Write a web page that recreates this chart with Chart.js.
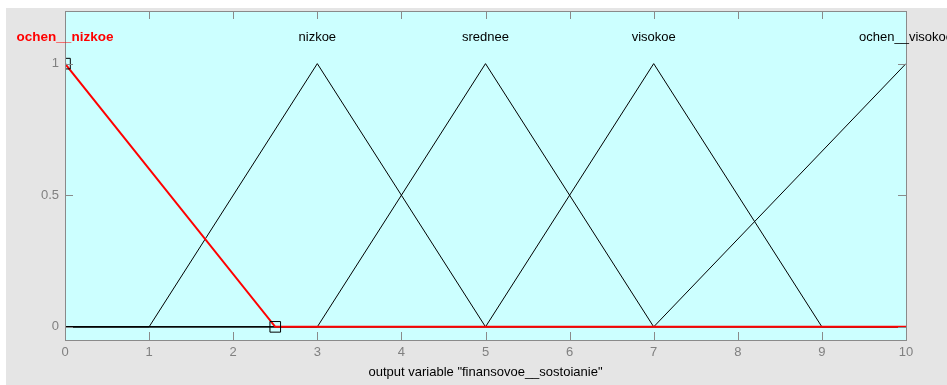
<!DOCTYPE html>
<html>
<head>
<meta charset="utf-8">
<script src="https://cdn.jsdelivr.net/npm/chart.js@4/dist/chart.umd.min.js"></script>
<style>
  html, body { margin: 0; padding: 0; background: #fff; }
</style>
</head>
<body>
<canvas id="mf" width="947" height="385"></canvas>
<script>
// membership functions of the output variable
const mfNames = ["ochen__nizkoe", "nizkoe", "srednee", "visokoe", "ochen__visokoe"];
const mfX = [
  [0, 2.5, 10],
  [0, 1, 3, 5, 10],
  [0, 3, 5, 7, 10],
  [0, 5, 7, 9, 10],
  [0, 7, 10],
];
const mfY = [
  [1, 0, 0],
  [0, 0, 1, 0, 0],
  [0, 0, 1, 0, 0],
  [0, 0, 1, 0, 0],
  [0, 0, 1],
];
const selected = 0; // highlighted mf (red, with vertex squares)
const xTicks = [0, 1, 2, 3, 4, 5, 6, 7, 8, 9, 10];
const yTicks = [0, 0.5, 1];
const xTitle = 'output variable "finansovoe__sostoianie"';
const labelLevel = 1.1;

const FONT = "'Liberation Sans', Arial, Helvetica, sans-serif";
const PANEL = "#e5e5e5";
const AXES_BG = "#ccffff";
const BOX = "#8a8a8a";

const datasets = mfNames.map((name, i) => {
  const pts = mfX[i].map((x, j) => ({ x, y: mfY[i][j] }));
  const sel = i === selected;
  return {
    label: name,
    data: pts,
    borderColor: sel ? "#ff0000" : "#000000",
    borderWidth: sel ? 2 : 1,
    pointRadius: sel ? pts.map((p, j) => (j < pts.length - 1 ? 7.5 : 0)) : 0,
    pointStyle: "rect",
    pointBorderColor: "#000000",
    pointBackgroundColor: "rgba(0,0,0,0)",
    pointBorderWidth: 1,
    tension: 0,
  };
});

const frame = {
  id: "frame",
  beforeDraw(chart) {
    const { ctx, chartArea: a } = chart;
    ctx.save();
    ctx.fillStyle = "#ffffff";
    ctx.fillRect(0, 0, chart.width, chart.height);
    ctx.fillStyle = PANEL;
    ctx.fillRect(6, 8, chart.width - 6, chart.height - 8);
    ctx.fillStyle = AXES_BG;
    ctx.fillRect(a.left, a.top, a.right - a.left, a.bottom - a.top);
    ctx.restore();
  },
  afterDatasetsDraw(chart) {
    const { ctx, chartArea: a, scales } = chart;
    const tl = 8;
    ctx.save();
    ctx.strokeStyle = BOX;
    ctx.lineWidth = 1;
    ctx.beginPath();
    xTicks.forEach((v) => {
      const px = Math.round(scales.x.getPixelForValue(v)) + 0.5;
      ctx.moveTo(px, a.top); ctx.lineTo(px, a.top + tl);
      ctx.moveTo(px, a.bottom); ctx.lineTo(px, a.bottom - tl);
    });
    yTicks.forEach((v) => {
      const py = Math.round(scales.y.getPixelForValue(v)) + 0.5;
      ctx.moveTo(a.left, py); ctx.lineTo(a.left + tl, py);
      ctx.moveTo(a.right, py); ctx.lineTo(a.right - tl, py);
    });
    ctx.stroke();
    ctx.strokeRect(Math.round(a.left) + 0.5, Math.round(a.top) + 0.5,
      Math.round(a.right - a.left), Math.round(a.bottom - a.top));

    // mf names above each peak
    ctx.textAlign = "center";
    ctx.textBaseline = "middle";
    const ly = scales.y.getPixelForValue(labelLevel);
    mfNames.forEach((name, i) => {
      const peak = mfX[i][mfY[i].indexOf(1)];
      const sel = i === selected;
      ctx.fillStyle = sel ? "#ff0000" : "#000000";
      ctx.font = sel ? "bold 13.5px " + FONT : "13px " + FONT;
      ctx.fillText(name, scales.x.getPixelForValue(peak), ly);
    });
    ctx.restore();
  },
};

new Chart(document.getElementById("mf"), {
  type: "line",
  data: { datasets },
  plugins: [frame],
  options: {
    responsive: false,
    animation: false,
    events: [],
    layout: { padding: { top: 11, right: 41, left: 0, bottom: 0 } },
    plugins: { legend: { display: false }, tooltip: { enabled: false } },
    scales: {
      x: {
        type: "linear",
        min: 0,
        max: 10,
        grid: { display: false, drawTicks: false },
        border: { display: false },
        afterBuildTicks: (s) => { s.ticks = xTicks.map((v) => ({ value: v })); },
        afterFit: (s) => {
          s.height = 45;
          s.paddingLeft = 0; s.paddingRight = 0;
        },
        ticks: {
          color: "#808080",
          padding: 5,
          maxRotation: 0,
          font: { family: FONT, size: 13 },
        },
        title: {
          display: true,
          text: xTitle,
          color: "#000000",
          padding: { top: 0, bottom: 5 },
          font: { family: FONT, size: 13 },
        },
      },
      y: {
        min: -0.05,
        max: 1.2,
        grid: { display: false, drawTicks: false },
        border: { display: false },
        afterBuildTicks: (s) => { s.ticks = yTicks.map((v) => ({ value: v })); },
        afterFit: (s) => {
          s.width = 65;
          s.paddingTop = 0; s.paddingBottom = 0;
        },
        ticks: {
          color: "#808080",
          padding: 6,
          font: { family: FONT, size: 13 },
          callback: (v) => String(v),
        },
      },
    },
  },
});
</script>
</body>
</html>
